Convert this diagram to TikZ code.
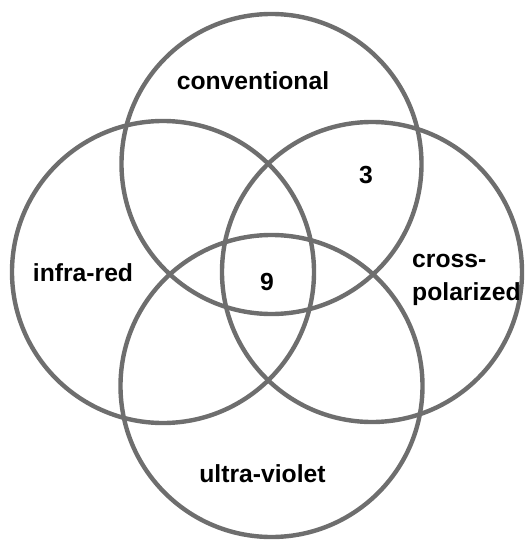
\documentclass[tikz,border=0pt]{standalone}
\usepackage{fontspec}
\setmainfont{Liberation Sans}
\usetikzlibrary {positioning, calc}
\definecolor{ringgray}{RGB}{110,110,110}
\tikzset{
	ring/.style={circle, draw=ringgray, line width=4.4pt, inner sep=0pt},
	tag/.style={font=\fontsize{24.7}{33}\selectfont\bfseries, inner sep=0pt, anchor=base}
}

\begin{document}
\begin{tikzpicture}[x=1pt,y=-1pt]
	\useasboundingbox (0,0) rectangle (531,541);

	\node[ring,minimum size=300pt] (C) at (271.5,164)	{};
	\node[ring,minimum size=302pt] (I) at (163,272)		{};
	\node[ring,minimum size=300pt] (X) at (372,272)		{};
	\node[ring,minimum size=302pt] (U) at (271.5,386)	{};

	\node[tag] (Ct) at (253,89)		{conventional};
	\node[tag] (It) at (83,281)		{infra-red};
	\node[tag,anchor=base west,align=left] (Xt) at (412,300)	{cross-\\polarized};
	\node[tag] (Ut) at (262.5,482)	{ultra-violet};
	\node[tag] (n3) at (366,183)	{3};
	\node[tag] (n9) at (267,290)	{9};
\end{tikzpicture}
\end{document}
